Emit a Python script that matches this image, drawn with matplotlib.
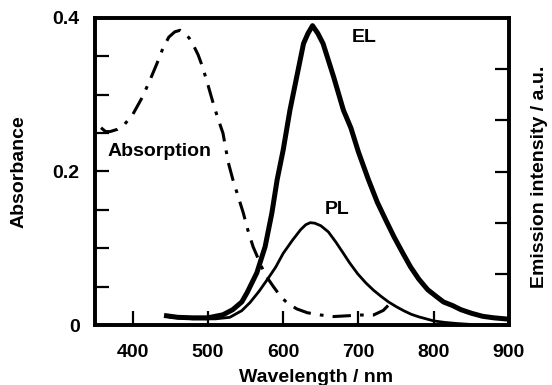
import matplotlib
matplotlib.use('Agg')
import matplotlib.pyplot as plt

plt.rcParams['font.family'] = ['Liberation Sans', 'DejaVu Sans']
plt.rcParams['font.weight'] = 'bold'
plt.rcParams['font.size'] = 14

# absorption spectrum (left axis, absorbance)
abs_nm = [358, 364, 370, 380, 388, 400, 413, 423, 432, 440, 448, 456, 463,
          469, 475, 480, 487, 493, 500, 507, 513, 520, 527, 533, 540, 547,
          553, 560, 567, 573, 580, 587, 596, 605, 618, 632, 650, 667, 685,
          703, 720, 733, 740, 745]
abs_val = [0.257, 0.252, 0.252, 0.255, 0.260, 0.274, 0.297, 0.319, 0.340,
           0.360, 0.375, 0.382, 0.384, 0.380, 0.374, 0.366, 0.352, 0.336,
           0.313, 0.289, 0.270, 0.250, 0.212, 0.190, 0.168, 0.146, 0.124,
           0.102, 0.086, 0.072, 0.060, 0.050, 0.038, 0.029, 0.021, 0.016,
           0.013, 0.011, 0.012, 0.013, 0.013, 0.019, 0.026, 0.033]

# electroluminescence (right axis, a.u.)
el_nm = [445, 460, 480, 500, 520, 533, 545, 552, 565, 576, 585, 592, 600,
         609, 618, 627, 633, 639, 646, 653, 667, 680, 690, 700, 713, 725,
         737, 747, 758, 769, 780, 792, 805, 813, 825, 836, 850, 865, 880, 895]
el_val = [0.18, 0.15, 0.14, 0.14, 0.20, 0.30, 0.45, 0.63, 1.02, 1.53, 2.19,
          2.84, 3.42, 4.20, 4.85, 5.50, 5.70, 5.85, 5.70, 5.50, 4.85, 4.20,
          3.85, 3.38, 2.85, 2.40, 2.03, 1.73, 1.43, 1.14, 0.90, 0.69, 0.54,
          0.45, 0.38, 0.30, 0.23, 0.17, 0.14, 0.12]

# photoluminescence (right axis, a.u.)
pl_nm = [450, 480, 510, 529, 545, 556, 568, 579, 590, 600, 612, 623, 630,
         636, 642, 650, 660, 670, 680, 688, 699, 710, 720, 730, 740, 750,
         760, 770, 780, 790, 800, 815, 830, 850]
pl_val = [0.15, 0.12, 0.12, 0.15, 0.28, 0.44, 0.66, 0.89, 1.13, 1.40, 1.65,
          1.86, 1.96, 2.00, 1.99, 1.94, 1.82, 1.62, 1.40, 1.22, 1.00, 0.82,
          0.68, 0.56, 0.45, 0.36, 0.28, 0.21, 0.16, 0.12, 0.08, 0.05, 0.03,
          0.01]

fig = plt.figure(figsize=(5.52, 3.85), dpi=100)
ax = fig.add_axes([95 / 552, 1 - 325 / 385, 414 / 552, 307 / 385])
ax2 = ax.twinx()

ln, = ax.plot(abs_nm, abs_val, color='black', lw=2.2)
ln.set_dashes([6, 3, 1.2, 3])
ax2.plot(el_nm, el_val, color='black', lw=3.6)
ax2.plot(pl_nm, pl_val, color='black', lw=2.0)

ax.set_xlim(350, 900)
ax.set_ylim(0, 0.4)
ax2.set_ylim(0, 6)

ax.set_xticks([400, 500, 600, 700, 800, 900])
ax.set_yticks([0, 0.2, 0.4])
ax.set_yticklabels(['0', '0.2', '0.4'])
ax.set_yticks([0.05, 0.1, 0.15, 0.25, 0.3, 0.35], minor=True)
ax2.set_yticks([1, 2, 3, 4, 5])
ax2.set_yticklabels([])

for a in (ax, ax2):
    for s in a.spines.values():
        s.set_linewidth(2.6)
ax.tick_params(axis='both', which='both', direction='in', length=10,
               width=1.6, top=False, right=False)
ax.tick_params(axis='x', pad=14)
ax.tick_params(axis='y', pad=11)
ax2.tick_params(axis='y', direction='in', length=10, width=1.6)

ax.text(436, 0.226, 'Absorption', ha='center', va='center')
ax.text(707, 0.375, 'EL', ha='center', va='center')
ax.text(672, 0.150, 'PL', ha='center', va='center')

fig.text(19 / 552, 1 - 172 / 385, 'Absorbance', rotation=90,
         ha='center', va='center')
fig.text(316 / 552, 1 - 377 / 385, 'Wavelength / nm',
         ha='center', va='center')
fig.text(540 / 552, 1 - 177 / 385, 'Emission intensity / a.u.', rotation=90,
         ha='center', va='center')

fig.savefig('out.png', dpi=100)
